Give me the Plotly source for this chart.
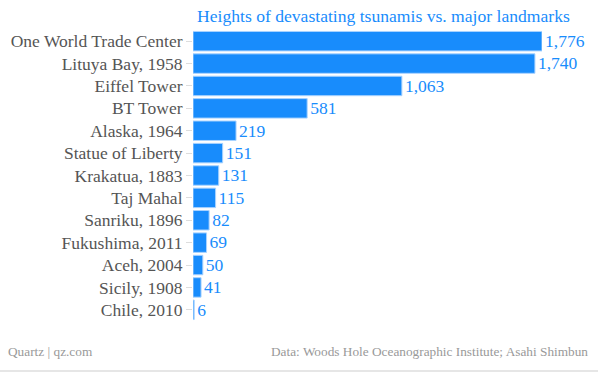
import plotly.graph_objects as go

labels = ["One World Trade Center", "Lituya Bay, 1958", "Eiffel Tower", "BT Tower",
          "Alaska, 1964", "Statue of Liberty", "Krakatua, 1883", "Taj Mahal",
          "Sanriku, 1896", "Fukushima, 2011", "Aceh, 2004", "Sicily, 1908", "Chile, 2010"]
values = [1776, 1740, 1063, 581, 219, 151, 131, 115, 82, 69, 50, 41, 6]

BLUE = "#188cfc"
FONT = "Liberation Serif"

L, R, T, B = 193, 56, 30, 55
PW, PH = 598 - L - R, 376 - T - B

fig = go.Figure(go.Bar(
    x=values, y=labels, orientation="h",
    marker=dict(color=BLUE, line=dict(color="#a9d3ff", width=1)),
    width=0.87,
    text=[f"{v:,}" for v in values], textposition="outside",
    textfont=dict(color=BLUE, size=18, family=FONT),
    cliponaxis=False,
))

fig.update_layout(
    width=598, height=376,
    margin=dict(l=L, r=R, t=T, b=B),
    paper_bgcolor="white", plot_bgcolor="white",
    showlegend=False,
    font=dict(family=FONT),
    xaxis=dict(range=[0, 1776], visible=False),
    yaxis=dict(autorange="reversed", ticks="outside", ticklen=6, tickcolor="#dddddd",
               tickfont=dict(size=17.5, color="#555555", family=FONT),
               showline=False, showgrid=False, automargin=False),
)
fig.add_annotation(text="Heights of devastating tsunamis vs. major landmarks",
                   xref="paper", yref="paper", x=(195 - L) / PW, y=1 + (T - 16) / PH,
                   xanchor="left", yanchor="middle", showarrow=False,
                   font=dict(color=BLUE, size=17.6, family=FONT))
fig.add_annotation(text="Quartz | qz.com", xref="paper", yref="paper",
                   x=-(L - 6) / PW, y=-(351 - (376 - B)) / PH, xanchor="left", yanchor="middle",
                   showarrow=False, font=dict(color="#999999", size=13.3, family=FONT))
fig.add_annotation(text="Data: Woods Hole Oceanographic Institute; Asahi Shimbun",
                   xref="paper", yref="paper", x=1 + (590 - (598 - R)) / PW,
                   y=-(351 - (376 - B)) / PH, xanchor="right", yanchor="middle",
                   showarrow=False, font=dict(color="#999999", size=13.3, family=FONT))
fig.add_shape(type="line", xref="paper", yref="paper", x0=-L / PW, x1=1 + R / PW,
              y0=-(371 - (376 - B)) / PH, y1=-(371 - (376 - B)) / PH,
              line=dict(color="#e6e6e6", width=2))

fig.write_html("out.html", config={"displayModeBar": False},
               post_script="document.body.style.margin='0';")
